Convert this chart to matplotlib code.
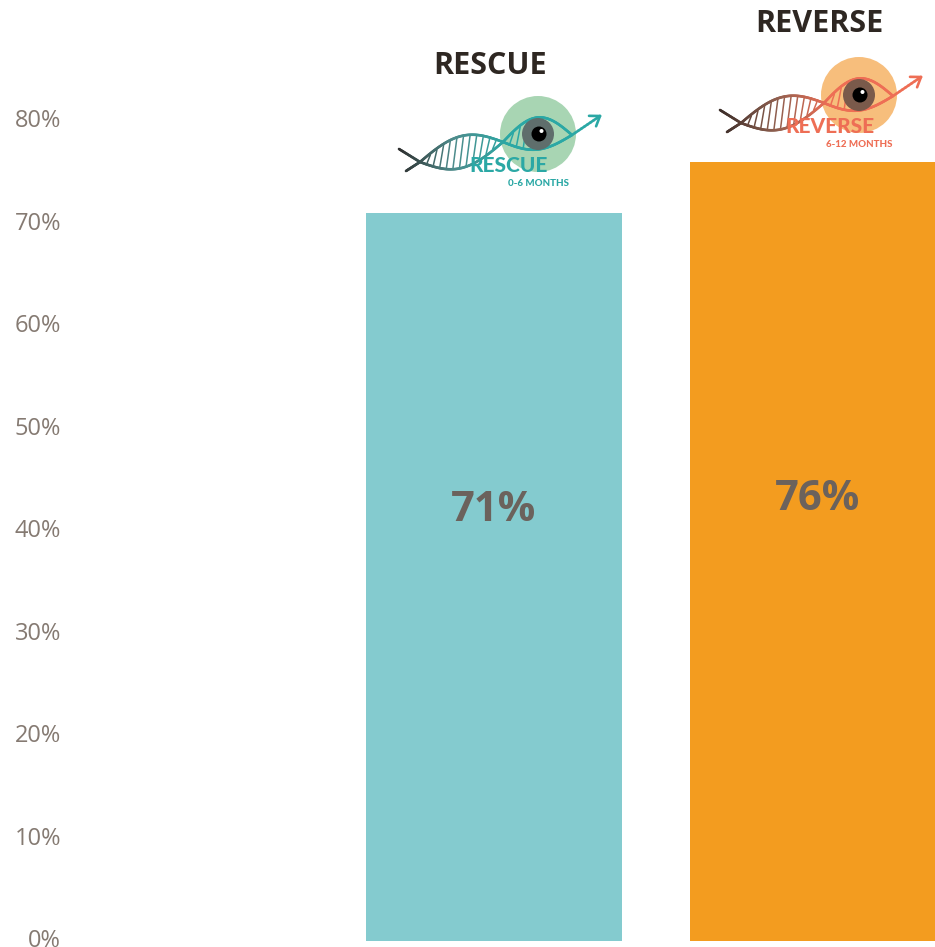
import numpy as np
import matplotlib
matplotlib.use("Agg")
import matplotlib.pyplot as plt
import matplotlib.transforms as mtransforms
from matplotlib.patches import Circle
from matplotlib.collections import LineCollection
from matplotlib.colors import to_rgb

plt.rcParams['font.family'] = ['Open Sans', 'DejaVu Sans']

# data
categories = ['RESCUE', 'REVERSE']
values = [71, 76]
value_labels = ['71%', '76%']
sub_labels = ['0-6 MONTHS', '6-12 MONTHS']
yticks = [0, 10, 20, 30, 40, 50, 60, 70, 80]
ytick_labels = ['0%', '10%', '20%', '30%', '40%', '50%', '60%', '70%', '80%']

# styles / layout
bar_colors = ['#84CBCF', '#F39C1F']
label_y = [42.0, 43.1]
logo_centers = [(538, 134), (859, 95)]       # figure pixels, y down
title_pos = [(490, 66), (819, 24)]
logo_styles = [
    dict(dark='#2E2E2E', mid='#4E8C8C', main='#2BA8A5', circ='#A8D5B3', iris='#5F6E6C'),
    dict(dark='#3A2C28', mid='#8C5E4E', main='#EE6E55', circ='#F7BE7C', iris='#7A5A4B'),
]

W, H = 935, 947
fig = plt.figure(figsize=(W / 100, H / 100), dpi=100)
ax = fig.add_axes([0, 6 / H, 1, 941 / H])
ax.bar(range(len(values)), values, width=256 / 324, color=bar_colors, zorder=2)
ax.set_ylim(0, 941 / 10.25)
ax.set_xlim(-494 / 324, 1 + (W - 818) / 324)
ax.set_yticks(yticks)
ax.set_yticklabels(ytick_labels)
ax.set_xticks([])
ax.tick_params(axis='y', length=0, pad=-44, labelsize=17, labelcolor='#857A72')
shift = mtransforms.ScaledTranslation(0, 2 / 72, fig.dpi_scale_trans)
for lab in ax.get_yticklabels():
    lab.set_transform(lab.get_transform() + shift)
for s in ax.spines.values():
    s.set_visible(False)
for i, v in enumerate(values):
    ax.text(i, label_y[i], value_labels[i], ha='center', va='center',
            fontsize=30, fontweight='bold', color='#6B625C', zorder=3)

# overlay in figure pixels for titles and logos
ov = fig.add_axes([0, 0, 1, 1], zorder=5)
ov.set_xlim(0, W)
ov.set_ylim(H, 0)
ov.axis('off')


def grad(x, x0, st):
    t = np.clip((x - x0) / 110.0, 0, 1)
    c0, c1, c2 = (np.array(to_rgb(st[k])) for k in ('dark', 'mid', 'main'))
    out = []
    for tt in np.atleast_1d(t):
        if tt < 0.5:
            out.append(c0 + (c1 - c0) * tt / 0.5)
        else:
            out.append(c1 + (c2 - c1) * (tt - 0.5) / 0.5)
    return out


def gline(x, y, x0, st, lw):
    pts = np.column_stack([x, y])
    segs = np.stack([pts[:-1], pts[1:]], axis=1)
    cols = grad((x[:-1] + x[1:]) / 2, x0, st)
    ov.add_collection(LineCollection(segs, colors=cols, linewidths=lw,
                                     capstyle='round', zorder=3))


def lobe(p0, p1, au, al, s):
    x = p0[0] + (p1[0] - p0[0]) * s
    c = p0[1] + (p1[1] - p0[1]) * s
    return x, c - au * np.sin(np.pi * s), c + al * np.sin(np.pi * s)


def draw_logo(cx, cy, st, name, sub):
    x0 = cx - 139
    ov.add_patch(Circle((cx, cy), 38, color=st['circ'], lw=0, zorder=1))
    c1 = (cx - 118, cy + 28)
    c2 = (cx - 35, cy + 8)
    c3 = (cx + 34, cy + 1)
    tip = (cx + 62, cy - 18)
    lw, rw = 1.9, 1.1
    # tails
    gline(np.linspace(cx - 139, c1[0], 20), np.linspace(cy + 15, c1[1], 20), x0, st, lw)
    gline(np.linspace(cx - 132, c1[0], 20), np.linspace(cy + 37, c1[1], 20), x0, st, lw)
    # first lobe
    s = np.linspace(0, 1, 80)
    x, yu, yl = lobe(c1, c2, 16, 16, s)
    gline(x, yu, x0, st, lw)
    gline(x, yl, x0, st, lw)
    for sr in np.linspace(0.1, 0.9, 11):
        xr, yur, ylr = lobe(c1, c2, 16, 16, np.array([sr]))
        gline(np.array([xr[0] + 2, xr[0] - 2]), np.array([yur[0], ylr[0]]), x0, st, rw)
    # eye lobe
    x, yu, yl = lobe(c2, c3, 21, 11, s)
    gline(x, yu, x0, st, lw)
    gline(x, yl, x0, st, lw)
    for sr in [0.12, 0.22, 0.32]:
        xr, yur, ylr = lobe(c2, c3, 21, 11, np.array([sr]))
        gline(np.array([xr[0] + 2, xr[0] - 2]), np.array([yur[0], ylr[0]]), x0, st, rw)
    # arrow
    gline(np.linspace(c3[0], tip[0], 10), np.linspace(c3[1], tip[1], 10), x0, st, lw)
    d = np.array([tip[0] - c3[0], tip[1] - c3[1]], dtype=float)
    d /= np.hypot(*d)
    for ang in (np.radians(35), -np.radians(35)):
        r = np.array([[np.cos(ang), -np.sin(ang)], [np.sin(ang), np.cos(ang)]]) @ (-d)
        ov.plot([tip[0], tip[0] + 11 * r[0]], [tip[1], tip[1] + 11 * r[1]],
                color=st['main'], lw=lw, solid_capstyle='round', zorder=3)
    # iris
    ov.add_patch(Circle((cx, cy), 16, color=st['iris'], lw=0, zorder=4))
    ov.add_patch(Circle((cx + 1, cy), 7.5, color='black', lw=0, zorder=5))
    ov.add_patch(Circle((cx + 3.5, cy - 3), 2, color='white', lw=0, zorder=6))
    # text
    ov.text(cx - 29, cy + 31, name, ha='center', va='center', fontsize=15,
            fontweight='black', family=['Lato', 'DejaVu Sans'], color=st['main'], zorder=6)
    ov.text(cx, cy + 49, sub, ha='center', va='center', fontsize=7,
            fontweight='black', family=['Lato', 'DejaVu Sans'], color=st['main'], zorder=6)


for i, name in enumerate(categories):
    ov.text(title_pos[i][0], title_pos[i][1], name, ha='center', va='center',
            fontsize=22, fontweight='bold', color='#2E2722')
    draw_logo(logo_centers[i][0], logo_centers[i][1], logo_styles[i], name, sub_labels[i])

fig.savefig('out.png', dpi=100)
